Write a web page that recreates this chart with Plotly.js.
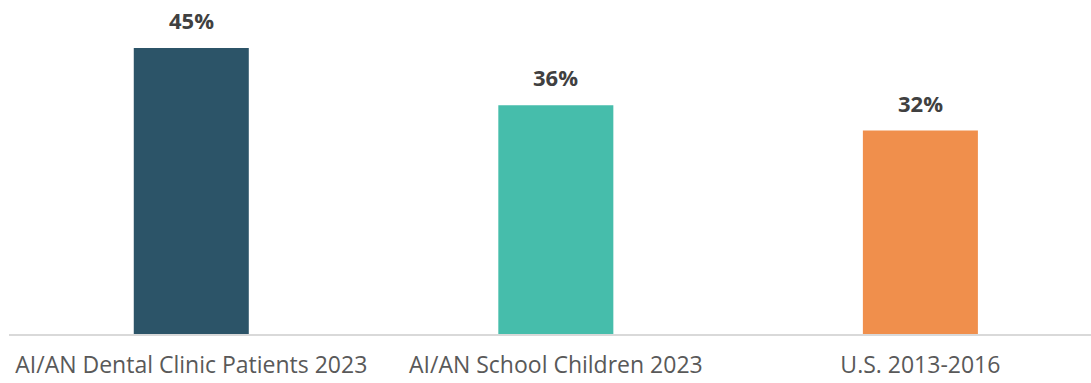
<!DOCTYPE html>
<html><head><meta charset="utf-8">
<script src="https://cdn.plot.ly/plotly-3.0.1.min.js"></script>
<style>html,body{margin:0;padding:0;background:#fff}#c{width:1091px;height:383px}</style>
</head><body><div id="c"></div>
<script>
const categories = ["AI/AN Dental Clinic Patients 2023", "AI/AN School Children 2023", "U.S. 2013-2016"];
const values = [45, 36, 32];
const labels = ["45%", "36%", "32%"];
const colors = ["#2c5468", "#46bdab", "#f08f4c"];

const trace = {
  type: "bar",
  x: [0, 1, 2],
  y: values,
  width: 0.3155,
  marker: {color: colors},
  hoverinfo: "none"
};
const annotations = values.map((v, i) => ({
  x: i, y: v, xref: "x", yref: "y", text: labels[i], showarrow: false,
  yanchor: "bottom", yshift: 11,
  font: {family: "'Open Sans', sans-serif", size: 22, color: "#404040", weight: 700}
}));
const layout = {
  width: 1091, height: 383,
  margin: {l: 9, r: 0, t: 0, b: 49},
  paper_bgcolor: "#fff", plot_bgcolor: "#fff",
  showlegend: false,
  xaxis: {
    range: [-0.5, 2.468], tickmode: "array", tickvals: [0, 1, 2], ticktext: categories,
    showgrid: false, zeroline: false, showline: true, linecolor: "#d9d9d9", linewidth: 1.5,
    ticks: "", ticklabelstandoff: 10,
    tickfont: {family: "'Open Sans', sans-serif", size: 23, color: "#595959"}
  },
  yaxis: {range: [0, 52.55], visible: false, showgrid: false, zeroline: false},
  annotations: annotations
};
Plotly.newPlot("c", [trace], layout, {displayModeBar: false, staticPlot: true});
</script></body></html>
